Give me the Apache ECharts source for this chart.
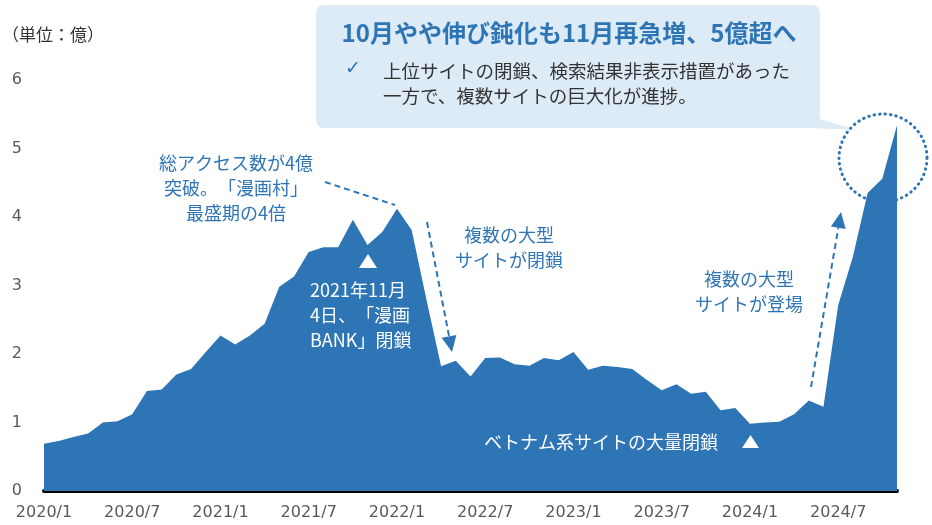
<!DOCTYPE html>
<html>
<head>
<meta charset="utf-8">
<style>
  html, body { margin: 0; padding: 0; background: #fff; }
  #chart { width: 932px; height: 525px; }
</style>
<script src="https://cdn.jsdelivr.net/npm/echarts@6/dist/echarts.min.js"></script>
</head>
<body>
<div id="chart"></div>
<script>
// Monthly total access (unit: 100 million), 2020/1 – 2024/11
const months = [];
for (let y = 2020; y <= 2024; y++) {
  for (let m = 1; m <= 12; m++) {
    if (y === 2024 && m > 11) break;
    months.push(y + '/' + m);
  }
}
const accessValues = [
  0.69, 0.73, 0.79, 0.84, 1.00, 1.02, 1.12, 1.46, 1.48, 1.70, 1.78, 2.03,
  2.27, 2.14, 2.27, 2.44, 2.98, 3.13, 3.49, 3.56, 3.56, 3.96, 3.59, 3.78,
  4.12, 3.81, 2.80, 1.82, 1.90, 1.67, 1.94, 1.95, 1.85, 1.83, 1.94, 1.91,
  2.03, 1.77, 1.83, 1.81, 1.78, 1.62, 1.47, 1.56, 1.42, 1.45, 1.18, 1.21,
  0.98, 1.00, 1.01, 1.12, 1.32, 1.23, 2.71, 3.42, 4.35, 4.56, 5.34
];
const yTicks = [0, 1, 2, 3, 4, 5, 6];

const BLUE = '#2E75B6';
const JP = '"Noto Sans CJK JP", sans-serif';
const NUM = '"DejaVu Sans", Verdana, sans-serif';
const ZW = '\u200B'; // keeps adjacent full-width punctuation at full width

const chart = echarts.init(document.getElementById('chart'), null, { renderer: 'canvas' });

function txt(text, x, y, opts) {
  return {
    type: 'text',
    z: 100,
    style: Object.assign({
      text: text, x: x, y: y,
      fill: BLUE,
      font: '18px ' + JP,
      textAlign: 'center',
      textVerticalAlign: 'middle',
      lineHeight: 25
    }, opts || {})
  };
}

const graphics = [
  // unit label
  txt(ZW + '（' + ZW + '単位' + ZW + '：' + ZW + '億' + ZW + '）' + ZW, 2, 35, { fill: '#333', font: '17px ' + JP, textAlign: 'left' }),

  // callout box with tail
  { type: 'polygon', z: 90, shape: { points: [[790, 110], [856, 130], [810, 128]] }, style: { fill: '#DDEBF7' } },
  { type: 'rect', z: 90, shape: { x: 316, y: 5, width: 504, height: 123, r: 8 }, style: { fill: '#DDEBF7' } },
  txt('10月やや伸び鈍化も11月再急増、5億超へ', 569, 33, { font: 'bold 24px ' + JP }),
  txt('✓', 353, 69, { font: '19px "DejaVu Sans", sans-serif', textAlign: 'center' }),
  txt('上位サイトの閉鎖、検索結果非表示措置があった', 383, 71, { fill: '#333', font: '18.5px ' + JP, textAlign: 'left' }),
  txt('一方で、複数サイトの巨大化が進捗。', 383, 96, { fill: '#333', font: '18.5px ' + JP, textAlign: 'left' }),

  // dotted ring around latest months
  { type: 'circle', z: 95, shape: { cx: 883, cy: 158, r: 44 },
    style: { fill: 'none', stroke: BLUE, lineWidth: 3, lineDash: [0.5, 5], lineCap: 'round' } },

  // peak note
  txt('総アクセス数が4億\n突破。' + ZW + '「漫画村」\n最盛期の4倍', 236, 188),
  { type: 'line', z: 95, shape: { x1: 325, y1: 182, x2: 395, y2: 205 },
    style: { stroke: BLUE, lineWidth: 2, lineDash: [6, 4] } },

  // 2021/11 closure marker
  { type: 'polygon', z: 95, shape: { points: [[359, 268], [377, 268], [368, 254]] }, style: { fill: '#fff' } },
  txt('2021年11月\n4日、' + ZW + '「漫画\nBANK」' + ZW + '閉鎖', 310, 315, { fill: '#fff', textAlign: 'left' }),

  // large sites closed
  txt('複数の大型\nサイトが閉鎖', 509, 248),
  { type: 'line', z: 95, shape: { x1: 427, y1: 222, x2: 449, y2: 336 },
    style: { stroke: BLUE, lineWidth: 2, lineDash: [6, 4] } },
  { type: 'polygon', z: 95, shape: { points: [[452, 352], [456.4, 334.9], [441.6, 337.7]] }, style: { fill: BLUE } },

  // large sites appeared
  txt('複数の大型\nサイトが登場', 749, 292),
  { type: 'line', z: 95, shape: { x1: 811, y1: 387, x2: 838.3, y2: 228 },
    style: { stroke: BLUE, lineWidth: 2, lineDash: [6, 4] } },
  { type: 'polygon', z: 95, shape: { points: [[841, 212], [845.7, 229.1], [830.9, 226.5]] }, style: { fill: BLUE } },

  // Vietnamese sites closure
  txt('ベトナム系サイトの大量閉鎖', 484, 442, { fill: '#fff', textAlign: 'left' }),
  { type: 'polygon', z: 95, shape: { points: [[742, 448], [759, 448], [750.5, 435]] }, style: { fill: '#fff' } }
];

chart.setOption({
  animation: false,
  backgroundColor: '#fff',
  grid: { left: 44, right: 35, top: 80, bottom: 34, containLabel: false },
  xAxis: {
    type: 'category',
    data: months,
    boundaryGap: false,
    axisLine: { show: true, lineStyle: { color: '#000', width: 4 } },
    axisTick: { show: false },
    axisLabel: {
      interval: 5,
      color: '#595959',
      fontFamily: NUM,
      fontSize: 16,
      margin: 14
    },
    splitLine: { show: false }
  },
  yAxis: {
    type: 'value',
    min: yTicks[0],
    max: yTicks[yTicks.length - 1],
    interval: 1,
    axisLine: { show: false },
    axisTick: { show: false },
    splitLine: { show: false },
    axisLabel: {
      color: '#595959',
      fontFamily: NUM,
      fontSize: 16,
      margin: 22
    }
  },
  series: [{
    type: 'line',
    data: accessValues,
    symbol: 'none',
    lineStyle: { width: 0 },
    areaStyle: { color: BLUE, opacity: 1 },
    z: 2
  }],
  graphic: graphics
});
</script>
</body>
</html>
